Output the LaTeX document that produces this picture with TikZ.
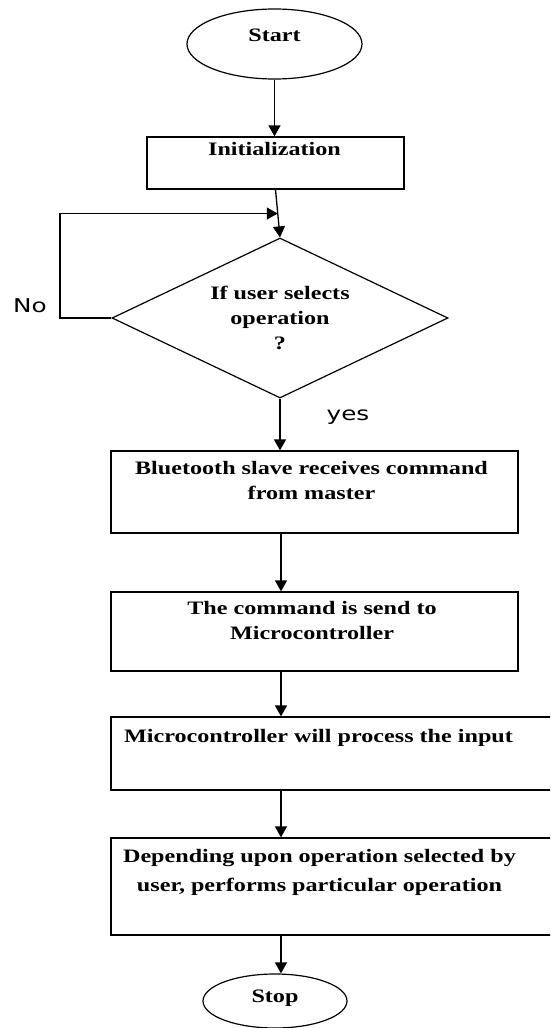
\documentclass[tikz,border=0pt]{standalone}
\usepackage{fontspec}
\setmainfont{Liberation Serif}
\newfontfamily\boxfont[FakeStretch=1.27]{Liberation Serif}
\newfontfamily\answerfont[FakeStretch=1.3]{DejaVu Sans}
\usetikzlibrary{shapes.geometric,arrows.meta,calc}
\tikzset{
  flowline/.style={line width=1.3pt,-{Triangle[width=12pt,length=11pt]}},
  procbox/.style={draw,line width=1.3pt,inner sep=0pt},
  termin/.style={draw,ellipse,line width=1.2pt,inner sep=0pt},
  decision/.style={draw,diamond,line width=1.2pt,inner sep=0pt},
  boxtext/.style={anchor=north,inner sep=0pt,align=center,
    font=\boxfont\bfseries\fontsize{19}{25}\selectfont},
  answer/.style={inner sep=0pt,font=\answerfont\fontsize{19}{23}\selectfont}
}
\begin{document}
\begin{tikzpicture}[x=1pt,y=-1pt]
    \clip (0,0) rectangle (550,1028);
    \fill[white] (0,0) rectangle (550,1028);
    \coordinate (Spine) at (281,0);
    % terminals, boxes and the decision
    \node[termin, minimum width=175pt, minimum height=70pt,
          label={[boxtext,anchor=center,yshift=9pt]center:Start}] (Start) at (274.5,44) {};
    \node[procbox, minimum width=257pt, minimum height=52pt,
          label={[boxtext,xshift=-1pt,yshift=-6pt]north:Initialization}] (Init) at (275.5,163) {};
    \node[decision, minimum width=336pt, minimum height=160pt,
          label={[boxtext,anchor=center]center:{If user selects\\operation\\?}}] (Select) at (280,318) {};
    \node[procbox, minimum width=407pt, minimum height=82pt,
          label={[boxtext,xshift=-3pt,yshift=-11pt]north:{Bluetooth slave receives command\\from master}}] (Bluetooth) at (314.5,492) {};
    \node[procbox, minimum width=407pt, minimum height=79pt,
          label={[boxtext,xshift=-2.5pt,yshift=-10pt]north:{The command is send to\\Microcontroller}}] (Command) at (314.5,631.5) {};
    \node[procbox, minimum width=454pt, minimum height=73pt,
          label={[boxtext,xshift=-19.5pt,yshift=-13pt]north:{Microcontroller will process the input}}] (Process) at (338,753.5) {};
    \node[procbox, minimum width=454pt, minimum height=97pt,
          label={[boxtext,xshift=-18.5pt,yshift=-12pt]north:{Depending upon operation selected by\\[4pt]user, performs particular operation}}] (Depend) at (338,886.5) {};
    \node[termin, minimum width=144pt, minimum height=54pt,
          label={[boxtext,anchor=center,yshift=2.5pt]center:Stop}] (Stop) at (275,1001) {};
    \coordinate (Merge) at ($(Init.south)!0.5!(Select.north)$);
    \coordinate (LoopCorner) at (60,0 |- Merge);
    % connectors
    \draw [flowline] (Start.south) -- (Start.south |- Init.north);
    \draw [flowline] (Init.south) -- (Select.north);
    \draw [flowline] (Select.west) -| (LoopCorner) -- (Merge);% No loop
    \draw [flowline] (Select.south) -- (Select.south |- Bluetooth.north);
    \draw [flowline] (Bluetooth.south -| Spine) -- (Command.north -| Spine);
    \draw [flowline] (Command.south -| Spine) -- (Process.north -| Spine);
    \draw [flowline] (Process.south -| Spine) -- (Depend.north -| Spine);
    \draw [flowline] (Depend.south -| Spine) -- (Stop.north -| Spine);
    \node[answer] (NoText) at (30,306) {No};
    \node[answer] (YesText) at (348,417) {yes};
\end{tikzpicture}
\end{document}
